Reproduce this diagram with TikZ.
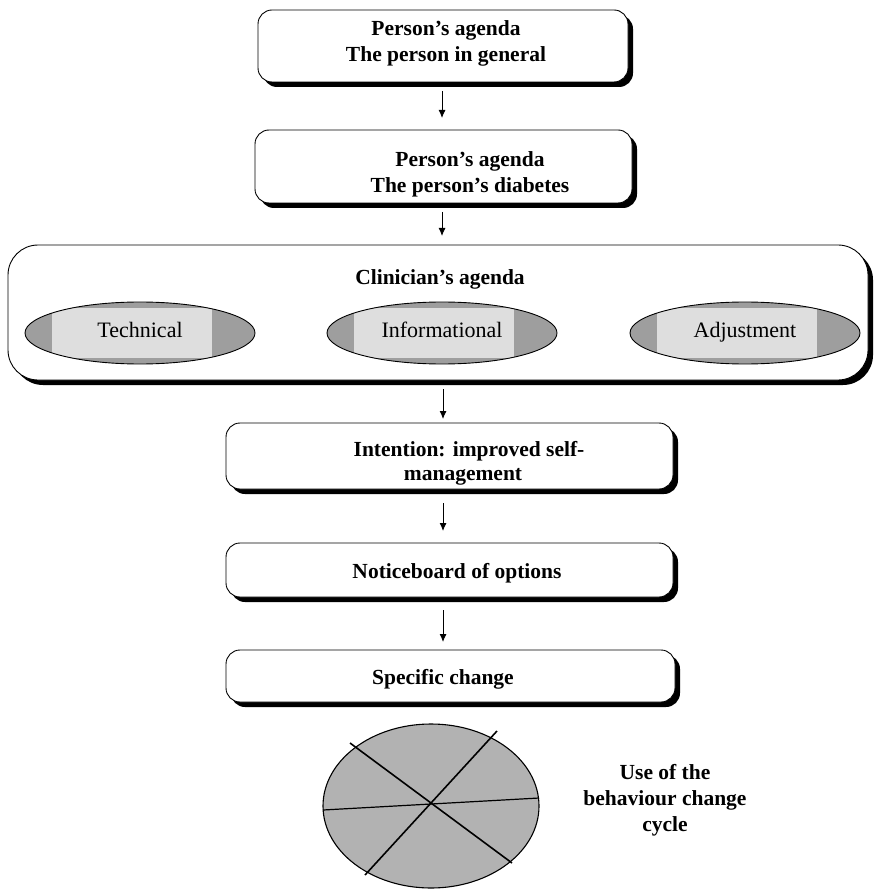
\documentclass[tikz,border=0pt]{standalone}
\usepackage{fontspec}
\setmainfont{Liberation Serif}
\usetikzlibrary{arrows.meta,shapes.geometric}
\definecolor{shadeout}{gray}{0.62}
\definecolor{shadein}{gray}{0.87}
\definecolor{wheel}{gray}{0.70}
\tikzset{
  box/.style={draw=black, line width=0.9pt, fill=white, rounded corners=14pt},
  boxshadow/.style={fill=black, rounded corners=14pt},
  lbl/.style={font=\bfseries\fontsize{21.5}{26}\selectfont, align=center, inner sep=0pt},
  oval/.style={font=\fontsize{22}{24}\selectfont, inner sep=0pt, text height=15pt, text depth=5pt},
  flow/.style={-{Latex[length=8pt,width=7pt]}, line width=0.9pt},
  spoke/.style={line width=1.6pt}
}
\begin{document}
\begin{tikzpicture}[x=1pt,y=-1pt]
\useasboundingbox (0,0) rectangle (881,890);

% Person's agenda: general
\fill[boxshadow] (263,15) rectangle (633,87);
\draw[box] (258,10) rectangle (628,82);
\node[lbl] (pg) at (446,43) {Person’s agenda\\The person in general};

% Person's agenda: diabetes
\fill[boxshadow] (260,135) rectangle (637,208);
\draw[box] (255,130) rectangle (632,203);
\node[lbl] (pd) at (470,174) {Person’s agenda\\The person’s diabetes};

% Clinician's agenda with its three strands
\fill[boxshadow, rounded corners=30pt] (13,250) rectangle (873,385);
\draw[box, rounded corners=30pt] (8,245) rectangle (868,380);
\node[lbl] (ca) at (440,279) {Clinician’s agenda};

\foreach \nm/\cx/\txt in {tech/140/Technical, info/442/Informational, adj/745/Adjustment}{
  \begin{scope}
    \path[clip] (\cx,333) ellipse [x radius=115, y radius=31];
    \fill[shadeout] (\cx-115,302) rectangle (\cx+115,364);
    \fill[shadein] (\cx-88,308) rectangle (\cx+72,358);
  \end{scope}
  \draw[line width=0.9pt] (\cx,333) ellipse [x radius=115, y radius=31];
  \node[oval] (\nm) at (\cx,332) {\txt};
}

% Intention, options, change
\fill[boxshadow] (231,428) rectangle (678,494);
\draw[box] (226,423) rectangle (673,489);
\node[lbl] (it1) at (469,451) {Intention: improved self-};
\node[lbl] (it2) at (463,477) {management};

\fill[boxshadow] (231,548) rectangle (678,602);
\draw[box] (226,543) rectangle (673,597);
\node[lbl] (nb) at (457,573) {Noticeboard of options};

\fill[boxshadow] (231,655) rectangle (680,707);
\draw[box] (226,650) rectangle (675,702);
\node[lbl] (sc) at (443,679) {Specific change};

% Connectors
\coordinate (a1s) at (442,91);  \coordinate (a1e) at (442,118);
\coordinate (a2s) at (442,212); \coordinate (a2e) at (442,236);
\coordinate (a3s) at (443,389); \coordinate (a3e) at (443,419);
\coordinate (a4s) at (443,503); \coordinate (a4e) at (443,531);
\coordinate (a5s) at (443,610); \coordinate (a5e) at (443,642);
\draw[flow] (a1s) -- (a1e);
\draw[flow] (a2s) -- (a2e);
\draw[flow] (a3s) -- (a3e);
\draw[flow] (a4s) -- (a4e);
\draw[flow] (a5s) -- (a5e);

% Behaviour change wheel
\coordinate (wc) at (431,806);
\fill[wheel] (wc) ellipse [x radius=108, y radius=82];
\draw[line width=1.1pt] (wc) ellipse [x radius=108, y radius=82];
\draw[spoke] (350,743) -- (512,863);
\draw[spoke] (497,731) -- (365,875);
\draw[line width=1.2pt] (323,810) -- (539,798);
\node[lbl] (cyc) at (665,800) {Use of the\\behaviour change\\cycle};
\end{tikzpicture}
\end{document}
